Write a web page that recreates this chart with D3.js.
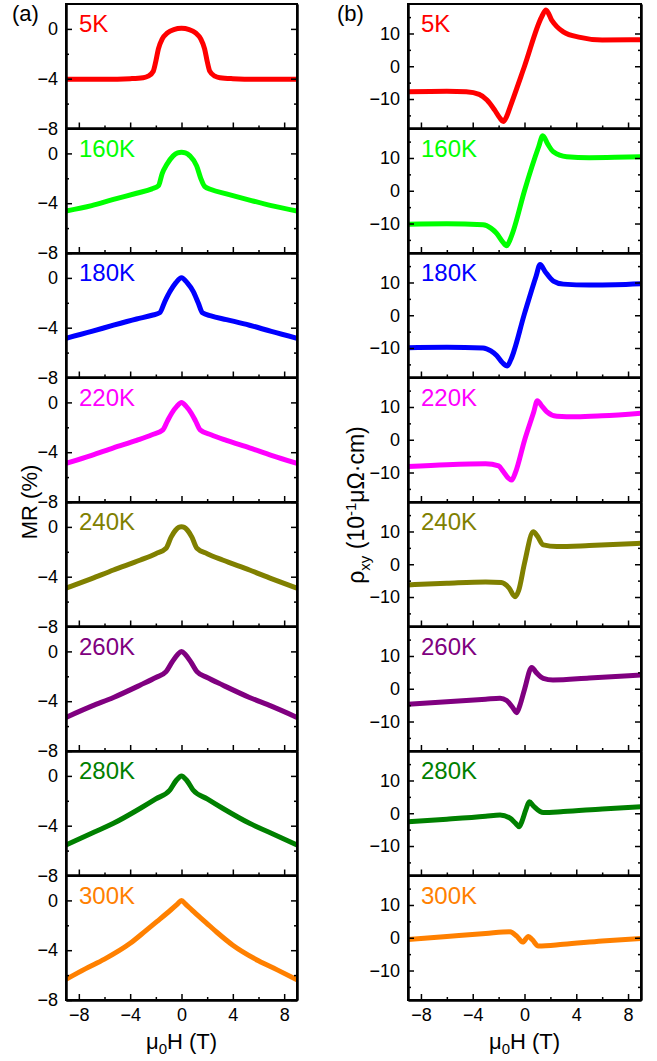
<!DOCTYPE html>
<html>
<head>
<meta charset="utf-8">
<title>MR and Hall</title>
<script src="https://d3js.org/d3.v7.min.js"></script>
<style>
  body { margin: 0; background: #fff; }
  text { font-family: Arial, "Liberation Sans", sans-serif; fill: #000; }
</style>
</head>
<body>
<div id="chart"></div>
<script>
// temperatures and their colours
var temps = ['5K', '160K', '180K', '220K', '240K', '260K', '280K', '300K'];
var colors = ['#ff0000', '#00ff00', '#0000ff', '#ff00ff', '#808000', '#800080', '#008000', '#ff8000'];

// (a) MR (%) vs mu0H (T)
var mr5K = [[-9,-4.05],[-6,-4.05],[-4,-4.0],[-3,-3.92],[-2.6,-3.8],[-2.2,-3.4],[-2.0,-2.6],[-1.8,-1.6],[-1.5,-0.8],[-1.1,-0.32],[-0.6,-0.05],[0,0.05],[0.6,-0.05],[1.1,-0.32],[1.5,-0.8],[1.8,-1.6],[2.0,-2.6],[2.2,-3.4],[2.6,-3.8],[3,-3.92],[4,-4.0],[6,-4.05],[9,-4.05]];
var mr160K = [[-9,-4.63],[-7,-4.2],[-5.3,-3.7],[-3.5,-3.2],[-2.3,-2.85],[-1.8,-2.6],[-1.5,-1.6],[-1.15,-0.9],[-0.65,-0.2],[-0.3,0.05],[0,0.1],[0.3,0.05],[0.65,-0.2],[1.18,-1.0],[1.5,-2.0],[1.8,-2.65],[2.3,-2.9],[3.5,-3.25],[5.3,-3.75],[7,-4.2],[9,-4.63]];
var mr180K = [[-9,-4.85],[-7,-4.3],[-5.3,-3.8],[-3.5,-3.3],[-2.3,-3.0],[-1.7,-2.8],[-1.3,-1.9],[-0.9,-1.1],[-0.45,-0.4],[0,0.02],[0.45,-0.4],[0.92,-1.1],[1.3,-2.0],[1.63,-2.8],[2.3,-3.05],[3.5,-3.35],[5.3,-3.8],[7,-4.3],[9,-4.85]];
var mr220K = [[-9,-4.9],[-7,-4.25],[-5.3,-3.65],[-3.5,-3.05],[-2.3,-2.6],[-1.45,-2.2],[-1.1,-1.5],[-0.75,-0.85],[-0.35,-0.3],[0,0],[0.35,-0.3],[0.75,-0.85],[1.1,-1.5],[1.45,-2.2],[2.3,-2.6],[3.5,-3.05],[5.3,-3.65],[7,-4.25],[9,-4.9]];
var mr240K = [[-9,-4.93],[-7,-4.15],[-5.3,-3.46],[-3.2,-2.66],[-2,-2.15],[-1.2,-1.72],[-0.8,-0.8],[-0.45,-0.25],[-0.2,-0.03],[0,0.02],[0.2,-0.03],[0.45,-0.25],[0.8,-0.8],[1.2,-1.72],[2,-2.15],[3.2,-2.66],[5.3,-3.46],[7,-4.15],[9,-4.93]];
var mr260K = [[-9,-5.3],[-7,-4.4],[-5.3,-3.7],[-3.2,-2.7],[-2,-2.1],[-1.2,-1.63],[-0.7,-0.8],[-0.3,-0.25],[0,0],[0.3,-0.25],[0.7,-0.8],[1.2,-1.63],[2,-2.1],[3.2,-2.7],[5.3,-3.7],[7,-4.4],[9,-5.3]];
var mr280K = [[-9,-5.55],[-7,-4.6],[-5.3,-3.81],[-3.2,-2.6],[-2,-1.85],[-0.9,-1.13],[-0.4,-0.35],[0,0],[0.4,-0.35],[0.9,-1.13],[2,-1.85],[3.2,-2.6],[5.3,-3.81],[7,-4.6],[9,-5.55]];
var mr300K = [[-9,-6.34],[-7.5,-5.5],[-6,-4.72],[-4,-3.45],[-2.8,-2.45],[-1.93,-1.71],[-0.84,-0.77],[-0.3,-0.28],[0,0],[0.3,-0.28],[0.84,-0.8],[1.93,-1.8],[2.8,-2.6],[4,-3.6],[6,-4.85],[7.5,-5.6],[9,-6.38]];

// (b) rho_xy (10^-1 uOhm cm) vs mu0H (T)
var hall5K = [[-9,-7.8],[-6,-7.6],[-4.5,-7.8],[-3.5,-8.6],[-2.9,-10.3],[-2.3,-13.4],[-1.9,-15.8],[-1.64,-16.9],[-1.4,-15.5],[-1.1,-12.3],[0,0],[1.33,15.1],[1.66,17.2],[2.1,14.1],[2.5,12.1],[3,10.5],[4.3,8.8],[6,8.0],[9,8.1]];
var hall160K = [[-9,-10.25],[-6,-10.1],[-3.2,-10.4],[-2.6,-11.4],[-2.15,-13],[-1.7,-15.5],[-1.38,-16.8],[-1.1,-14.8],[-0.86,-12.2],[0,0],[1.1,13.5],[1.41,16.8],[1.8,14.2],[2.23,11.9],[3.26,10.4],[5,10.1],[7,10.2],[9,10.4]];
var hall180K = [[-9,-9.9],[-6,-9.8],[-3.2,-10.0],[-2.6,-10.9],[-2.15,-12.3],[-1.7,-14.5],[-1.33,-15.5],[-1.05,-13.5],[0,0.5],[0.9,12],[1.2,15.5],[1.6,13.3],[2.23,10.45],[3,9.5],[5,9.2],[7,9.3],[9,9.6]];
var hall220K = [[-9,-8.2],[-6,-7.6],[-3,-7.3],[-2,-8],[-1.64,-9.7],[-1.3,-11.5],[-0.99,-12.3],[-0.7,-10],[0,-0.2],[0.7,8.3],[0.99,11.9],[1.3,10.5],[1.71,8.6],[2.5,7.2],[4,7.0],[6,7.3],[9,8.1]];
var hall240K = [[-9,-6.3],[-6,-5.8],[-3,-5.4],[-1.8,-5.6],[-1.2,-7.2],[-0.73,-9.9],[-0.45,-8],[0,0.3],[0.68,9.9],[1.0,8.6],[1.45,5.9],[2.5,5.4],[5,5.7],[9,6.4]];
var hall260K = [[-9,-4.7],[-6,-4.0],[-3,-3.2],[-1.89,-2.9],[-1.38,-3.6],[-0.9,-5.8],[-0.6,-7.3],[-0.35,-5],[0,-0.2],[0.56,6.5],[0.9,5],[1.45,3.2],[2.2,2.7],[5,3.3],[9,4.2]];
var hall280K = [[-9,-2.6],[-6,-1.8],[-3,-0.9],[-1.89,-0.5],[-1.12,-1.5],[-0.7,-3],[-0.4,-4.1],[-0.2,-2.5],[0.1,1],[0.37,3.5],[0.7,2.2],[1.45,0.2],[3,0.5],[6,1.3],[9,2.0]];
var hall300K = [[-9,-0.5],[-6,0.4],[-3,1.3],[-1.12,1.8],[-0.6,0.5],[-0.14,-1.3],[0.3,0.4],[0.6,-0.6],[1.07,-2.5],[3,-2.0],[6,-1.0],[9,-0.2]];

var mrData = [mr5K, mr160K, mr180K, mr220K, mr240K, mr260K, mr280K, mr300K];
var hallData = [hall5K, hall160K, hall180K, hall220K, hall240K, hall260K, hall280K, hall300K];

// tick values
var xMajor = [-8, -4, 0, 4, 8];
var xMinor = [-6, -2, 2, 6];
var mrMajor = [0, -4, -8];
var mrMinor = [-2, -6];
var hallMajor = [10, 0, -10];
var hallMinor = [15, 5, -5, -15];

var W = 657, H = 1061;
var top0 = 4, panelH = 124.5, nP = temps.length;

var svg = d3.select('#chart').append('svg')
  .attr('width', W)
  .attr('height', H);

function drawColumn(cfg) {
  var x = d3.scaleLinear().domain([-9, 9]).range([cfg.x0, cfg.x1]);
  var col = svg.append('g');

  cfg.data.forEach(function(series, i) {
    var pt = top0 + i * panelH;
    var y = d3.scaleLinear().domain(cfg.yDomain).range([pt + panelH, pt]);
    var g = col.append('g');

    var clipId = cfg.id + '-clip-' + i;
    svg.append('clipPath').attr('id', clipId)
      .append('rect')
      .attr('x', cfg.x0).attr('y', pt)
      .attr('width', cfg.x1 - cfg.x0).attr('height', panelH);

    var line = d3.line()
      .x(function(d) { return x(d[0]); })
      .y(function(d) { return y(d[1]); })
      .curve(d3.curveMonotoneX);

    g.append('path')
      .datum(series)
      .attr('clip-path', 'url(#' + clipId + ')')
      .attr('fill', 'none')
      .attr('stroke', colors[i])
      .attr('stroke-width', 5)
      .attr('stroke-linejoin', 'round')
      .attr('d', line);

    // left axis with labels
    var yl = g.append('g')
      .attr('transform', 'translate(' + cfg.x0 + ',0)')
      .call(d3.axisLeft(y).tickValues(cfg.yMajor).tickSize(-6).tickSizeOuter(0).tickPadding(8));
    yl.selectAll('text').style('font-size', '18px');
    g.append('g')
      .attr('transform', 'translate(' + cfg.x0 + ',0)')
      .call(d3.axisLeft(y).tickValues(cfg.yMinor).tickSize(-3).tickSizeOuter(0).tickFormat(''));

    // right axis, ticks only
    g.append('g')
      .attr('transform', 'translate(' + cfg.x1 + ',0)')
      .call(d3.axisRight(y).tickValues(cfg.yMajor).tickSize(-6).tickSizeOuter(0).tickFormat(''));
    g.append('g')
      .attr('transform', 'translate(' + cfg.x1 + ',0)')
      .call(d3.axisRight(y).tickValues(cfg.yMinor).tickSize(-3).tickSizeOuter(0).tickFormat(''));

    // bottom axis
    var last = i === nP - 1;
    var xb = g.append('g')
      .attr('transform', 'translate(0,' + (pt + panelH) + ')')
      .call(d3.axisBottom(x).tickValues(xMajor).tickSize(-6).tickSizeOuter(0).tickPadding(8)
        .tickFormat(last ? d3.format('') : ''));
    xb.selectAll('text').style('font-size', '18px');
    g.append('g')
      .attr('transform', 'translate(0,' + (pt + panelH) + ')')
      .call(d3.axisBottom(x).tickValues(xMinor).tickSize(-3).tickSizeOuter(0).tickFormat(''));

    // frame
    g.append('rect')
      .attr('x', cfg.x0).attr('y', pt)
      .attr('width', cfg.x1 - cfg.x0).attr('height', panelH)
      .attr('fill', 'none')
      .attr('stroke', '#000')
      .attr('stroke-width', 2);

    g.append('text')
      .attr('x', cfg.x0 + 13)
      .attr('y', pt + 28)
      .style('font-size', '24px')
      .style('fill', colors[i])
      .text(temps[i]);
  });

  col.selectAll('.tick line').attr('stroke-width', 1.5);
  col.selectAll('.domain').attr('stroke-width', 2);

  // x title
  var xt = col.append('text')
    .attr('x', (cfg.x0 + cfg.x1) / 2)
    .attr('y', 1049)
    .attr('text-anchor', 'middle')
    .style('font-size', '22px');
  xt.append('tspan').text('μ');
  xt.append('tspan').attr('dy', 5).style('font-size', '15px').text('0');
  xt.append('tspan').attr('dy', -5).text('H (T)');

  // panel letter
  col.append('text')
    .attr('x', cfg.letterX)
    .attr('y', 21)
    .style('font-size', '22px')
    .text(cfg.letter);
}

drawColumn({ id: 'a', data: mrData, x0: 66, x1: 297, yDomain: [-8, 2],
  yMajor: mrMajor, yMinor: mrMinor, letter: '(a)', letterX: 12 });
drawColumn({ id: 'b', data: hallData, x0: 408, x1: 641, yDomain: [-19, 19],
  yMajor: hallMajor, yMinor: hallMinor, letter: '(b)', letterX: 337 });

// y titles
svg.append('text')
  .attr('transform', 'translate(37,502) rotate(-90)')
  .attr('text-anchor', 'middle')
  .style('font-size', '22px')
  .text('MR (%)');

var yt = svg.append('text')
  .attr('transform', 'translate(364,505) rotate(-90)')
  .attr('text-anchor', 'middle')
  .style('font-size', '23px');
yt.append('tspan').text('ρ');
yt.append('tspan').attr('dy', 6).style('font-size', '15px').text('xy');
yt.append('tspan').attr('dy', -6).text(' (10');
yt.append('tspan').attr('dy', -8).style('font-size', '15px').text('-1');
yt.append('tspan').attr('dy', 8).text('μΩ·cm)');
</script>
</body>
</html>
